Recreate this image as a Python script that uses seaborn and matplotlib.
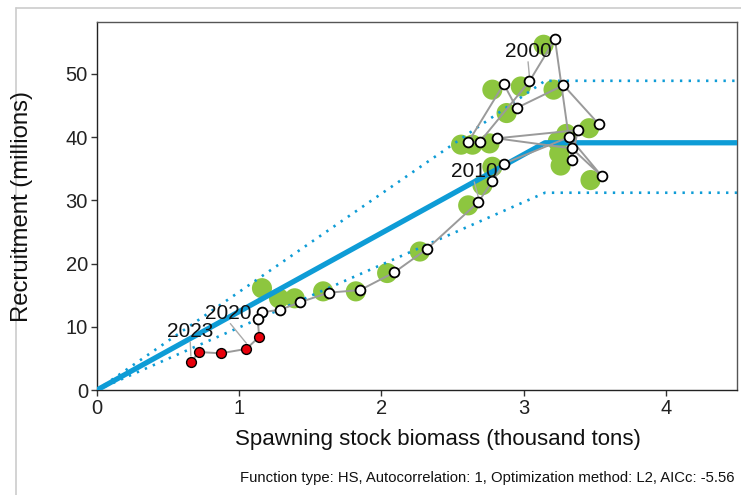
import numpy as np
import pandas as pd
import matplotlib
matplotlib.use("Agg")
import matplotlib.pyplot as plt
import seaborn as sns
from matplotlib.lines import Line2D

# ---------------- data ----------------
years = list(range(1994, 2024))
ssb = [3.53, 3.28, 2.95, 2.86, 2.61, 2.69, 3.04, 3.22, 3.34, 3.38,
       2.81, 3.34, 3.55, 3.32, 2.86, 2.78, 2.68, 2.32, 2.09, 1.85,
       1.63, 1.43, 1.29, 1.16, 1.13, 1.14, 1.05, 0.87, 0.72, 0.66]
rec = [42.0, 48.2, 44.6, 48.4, 39.2, 39.2, 48.8, 55.5, 36.3, 41.1,
       39.8, 38.2, 33.8, 40.0, 35.8, 33.0, 29.7, 22.3, 18.6, 15.8,
       15.4, 13.9, 12.7, 12.3, 11.2, 8.4, 6.5, 5.8, 6.0, 4.5]

prev_ssb = [3.14, 2.98, 3.21, 2.78, 2.88, 3.46, 3.30, 3.24, 2.56, 2.64,
            2.76, 3.25, 3.26, 2.78, 3.47, 2.71, 2.61, 2.27, 2.04, 1.82,
            1.59, 1.39, 1.28, 1.16]
prev_rec = [54.6, 48.0, 47.5, 47.5, 43.8, 41.4, 40.5, 39.3, 38.8, 38.8,
            39.0, 37.4, 35.5, 35.3, 33.2, 32.4, 29.2, 21.9, 18.5, 15.6,
            15.6, 14.5, 14.5, 16.1]

fit_ssb = [0.0, 3.15, 4.5]
fit_rec = [0.0, 39.1, 39.1]
upper_rec = [0.0, 48.9, 48.9]
lower_rec = [0.0, 31.2, 31.2]

recent_from = 2019
label_years = [2000, 2010, 2020, 2023]
label_x = [3.03, 2.65, 0.925, 0.655]
label_y = [53.5, 34.5, 12.1, 9.2]
caption = "Function type: HS, Autocorrelation: 1, Optimization method: L2, AICc: -5.56"

df = pd.DataFrame({"year": years, "ssb": ssb, "rec": rec})
df["recent"] = df["year"] >= recent_from
prev = pd.DataFrame({"ssb": prev_ssb, "rec": prev_rec})
fit = pd.DataFrame({"ssb": fit_ssb, "rec": fit_rec, "up": upper_rec, "lo": lower_rec})

# ---------------- style ----------------
sns.set_theme(style="white")
plt.rcParams['font.family'] = ['Liberation Sans', 'DejaVu Sans']

W, H = 741, 495
fig = plt.figure(figsize=(W / 100, H / 100), dpi=100)
ax = fig.add_axes([97 / W, 1 - 390 / H, (737 - 97) / W, (390 - 22) / H])

blue = "#0E9CD6"

sns.scatterplot(data=prev, x="ssb", y="rec", s=210, color="#8DC63F",
                edgecolor="none", ax=ax, zorder=1, legend=False)
sns.lineplot(data=fit, x="ssb", y="up", color=blue, lw=1.9,
             linestyle=(0, (0.9, 2.4)), ax=ax, zorder=2, estimator=None)
sns.lineplot(data=fit, x="ssb", y="lo", color=blue, lw=1.9,
             linestyle=(0, (0.9, 2.4)), ax=ax, zorder=2, estimator=None)
sns.lineplot(data=fit, x="ssb", y="rec", color=blue, lw=3.8,
             ax=ax, zorder=3, estimator=None)
sns.lineplot(data=df, x="ssb", y="rec", sort=False, estimator=None,
             color="#9A9A9A", lw=1.4, ax=ax, zorder=4)
sns.scatterplot(data=df[~df["recent"]], x="ssb", y="rec", s=50,
                color="white", edgecolor="black", linewidth=1.3,
                ax=ax, zorder=5, legend=False)
sns.scatterplot(data=df[df["recent"]], x="ssb", y="rec", s=50,
                color="#E8000B", edgecolor="black", linewidth=1.0,
                ax=ax, zorder=5, legend=False)

# year labels with leader lines
lookup = df.set_index("year")
for yr, lx, ly in zip(label_years, label_x, label_y):
    px, py = lookup.loc[yr, "ssb"], lookup.loc[yr, "rec"]
    ax.text(lx, ly, str(yr), fontsize=15, ha="center", va="center",
            color="#111111", zorder=6)
    if abs(ly - py) > 3.5:
        sy = ly - 1.6 if ly > py else ly + 1.6
        sx = lx + (px - lx) * 0.1
        ax.plot([sx, px], [sy, py + 0.9 if ly > py else py - 0.9],
                color="#AAAAAA", lw=1.0, zorder=4)

ax.set_xlim(0, 4.5)
ax.set_ylim(0, 58.2)
ax.set_xticks([0, 1, 2, 3, 4])
ax.set_yticks([0, 10, 20, 30, 40, 50])
ax.tick_params(axis="both", which="both", direction="out", length=4,
               width=1, color="#333333", labelsize=14.5, labelcolor="#222222",
               bottom=True, left=True, pad=2.5)
for s in ax.spines.values():
    s.set_color("#555555")
    s.set_linewidth(1.0)
ax.spines["left"].set_color("#222222")
ax.spines["bottom"].set_color("#222222")
ax.set_xlabel("")
ax.set_ylabel("")

fig.text(438 / W, 1 - 440 / H, "Spawning stock biomass (thousand tons)",
         fontsize=16, color="#111111", ha="center", va="center")
fig.text(22 / W, 1 - 206 / H, "Recruitment (millions)", rotation=90,
         fontsize=17.2, color="#111111", ha="center", va="center")

fig.text(735 / W, 1 - 478 / H, caption, ha="right", va="center",
         fontsize=10.7, color="#111111")

# light outer frame
fig.add_artist(Line2D([16 / W, 1], [1 - 8 / H, 1 - 8 / H],
                      transform=fig.transFigure, color="#CCCCCC", lw=1.2))
fig.add_artist(Line2D([16 / W, 16 / W], [0, 1 - 8 / H],
                      transform=fig.transFigure, color="#CCCCCC", lw=1.2))

fig.savefig("out.png", dpi=100)
